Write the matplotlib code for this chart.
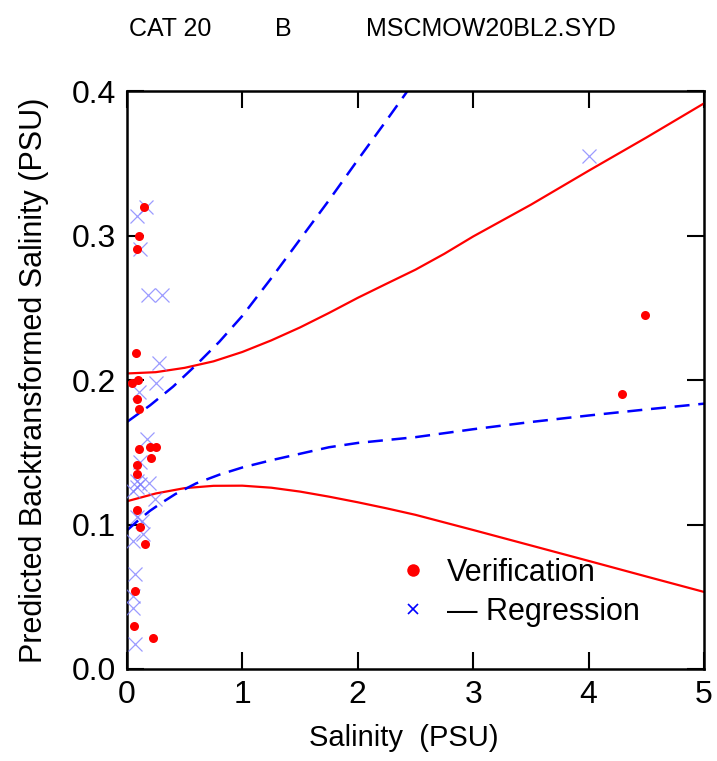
import numpy as np
import matplotlib
matplotlib.use("Agg")
import matplotlib.pyplot as plt
from matplotlib.lines import Line2D

plt.rcParams['font.family'] = ['Liberation Sans', 'DejaVu Sans']

# --------- data ---------
ver_x = [0.147, 0.107, 0.09, 0.078, 0.04, 0.10, 0.09, 0.107, 0.107, 0.20, 0.25,
         0.208, 0.09, 0.09, 0.09, 0.113, 0.159, 0.072, 0.061, 0.228, 4.29, 4.49]
ver_y = [0.320, 0.2995, 0.291, 0.219, 0.198, 0.200, 0.187, 0.180, 0.152, 0.1534, 0.1534,
         0.1458, 0.1414, 0.135, 0.110, 0.098, 0.0864, 0.054, 0.0298, 0.0217, 0.1906, 0.2454]

reg_x = [0.165, 0.09, 0.113, 0.182, 0.30, 0.28, 0.25, 0.107, 0.17, 0.113, 0.084, 0.113,
         0.193, 0.055, 0.084, 0.243, 0.084, 0.127, 0.055, 0.141, 0.069, 0.055, 0.055,
         0.069, 4.0]
reg_y = [0.320, 0.314, 0.291, 0.259, 0.259, 0.2117, 0.198, 0.1916, 0.159, 0.143, 0.130,
         0.128, 0.129, 0.123, 0.126, 0.1176, 0.105, 0.1026, 0.0887, 0.0934, 0.0657,
         0.0506, 0.0425, 0.0171, 0.355]

# verification band (red)
vb_up_x = [0.0, 0.25, 0.5, 0.75, 1.0, 1.25, 1.5, 1.75, 2.0, 2.25, 2.5, 2.75, 3.0, 3.5,
           4.0, 4.5, 5.0]
vb_up_y = [0.2046, 0.2055, 0.2085, 0.213, 0.2195, 0.2275, 0.2365, 0.2465, 0.257, 0.2668,
           0.2765, 0.2875, 0.2995, 0.3215, 0.345, 0.368, 0.3917]
vb_lo_x = [0.0, 0.25, 0.5, 0.75, 1.0, 1.25, 1.5, 1.75, 2.0, 2.25, 2.5, 3.0, 3.5, 4.0,
           4.5, 5.0]
vb_lo_y = [0.1161, 0.1215, 0.1252, 0.1268, 0.1269, 0.1255, 0.1228, 0.1193, 0.1154,
           0.1112, 0.1067, 0.0962, 0.0855, 0.0748, 0.064, 0.0533]

# regression band (blue dashed)
rb_up_x = [0.0, 0.2, 0.4, 0.6, 0.8, 1.0, 1.25, 1.5, 1.75, 2.0, 2.25, 2.5]
rb_up_y = [0.171, 0.1825, 0.1955, 0.2105, 0.2265, 0.2445, 0.2705, 0.2975, 0.3245,
           0.3525, 0.380, 0.408]
rb_lo_x = [0.0, 0.1, 0.2, 0.3, 0.42, 0.6, 0.8, 1.0, 1.25, 1.5, 1.75, 2.0, 2.5, 3.0,
           3.5, 4.0, 4.5, 5.0]
rb_lo_y = [0.0959, 0.103, 0.1095, 0.115, 0.1211, 0.1285, 0.1345, 0.1395, 0.1445, 0.149,
           0.1535, 0.1565, 0.1605, 0.166, 0.171, 0.1755, 0.1797, 0.1837]

# --------- plot ---------
fig = plt.figure(figsize=(7.17, 7.61), dpi=100)
ax = fig.add_axes([0.177, 0.121, 0.805, 0.759])

ax.plot(reg_x, reg_y, ls="none", marker="x", ms=10, mew=0.9, color="#7b7bff", alpha=0.75,
        zorder=3)
ax.plot(ver_x, ver_y, ls="none", marker="o", ms=6.5, mew=0, color="red", zorder=4)

ax.plot(vb_up_x, vb_up_y, color="red", lw=1.6, zorder=2)
ax.plot(vb_lo_x, vb_lo_y, color="red", lw=1.6, zorder=2)
ax.plot(rb_up_x, rb_up_y, color="blue", lw=1.8, ls=(0, (6, 3.5)), zorder=2)
ax.plot(rb_lo_x, rb_lo_y, color="blue", lw=1.8, ls=(0, (6, 3.5)), zorder=2)

ax.set_xlim(0, 5)
ax.set_ylim(0, 0.4)
ax.set_xticks([0, 1, 2, 3, 4, 5])
ax.set_yticks([0.0, 0.1, 0.2, 0.3, 0.4])
ax.set_yticklabels(["0.0", "0.1", "0.2", "0.3", "0.4"])
ax.tick_params(direction="in", length=12, width=1.5, labelsize=23,
               top=True, right=True, pad=8)
for s in ax.spines.values():
    s.set_linewidth(1.8)

ax.set_xlabel("Salinity  (PSU)", fontsize=21, labelpad=10, x=0.48)
ax.set_ylabel("Predicted Backtransformed Salinity (PSU)", fontsize=22, labelpad=16)

handles = [
    Line2D([], [], ls="none", marker="o", ms=9, mew=0, color="red"),
    Line2D([], [], ls="none", marker="x", ms=7, mew=1.2, color="blue"),
]
ax.legend(handles, ["Verification", "\u2014 Regression"], loc="lower left",
          bbox_to_anchor=(0.422, 0.025), frameon=False, fontsize=22,
          handletextpad=0.6, labelspacing=0.3, handlelength=1.0)

fig.text(0.237, 0.962, "CAT 20", fontsize=18, ha="center", va="center")
fig.text(0.395, 0.962, "B", fontsize=18, ha="center", va="center")
fig.text(0.685, 0.962, "MSCMOW20BL2.SYD", fontsize=18, ha="center", va="center")

fig.savefig("out.png", dpi=100)
